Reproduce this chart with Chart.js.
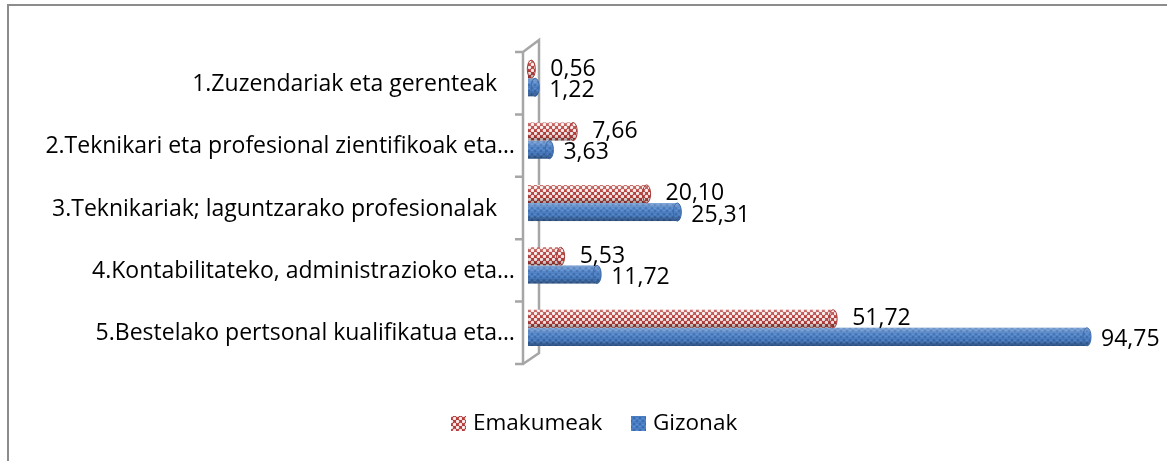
<!DOCTYPE html>
<html>
<head>
<meta charset="utf-8">
<script src="https://cdn.jsdelivr.net/npm/chart.js@4/dist/chart.umd.min.js"></script>
<style>
  html, body { margin: 0; padding: 0; background: #fff; }
  #wrap { width: 1167px; height: 461px; position: relative; }
</style>
</head>
<body>
<div id="wrap"><canvas id="c" width="1167" height="461"></canvas></div>
<script>
const categories = [
  "1.Zuzendariak eta gerenteak",
  "2.Teknikari eta profesional zientifikoak eta…",
  "3.Teknikariak; laguntzarako profesionalak",
  "4.Kontabilitateko, administrazioko eta…",
  "5.Bestelako pertsonal kualifikatua eta…"
];
const seriesNames = ["Emakumeak", "Gizonak"];
const emakumeak = [0.56, 7.66, 20.10, 5.53, 51.72];
const gizonak = [1.22, 3.63, 25.31, 11.72, 94.75];

const FONT = '"Open Sans", "DejaVu Sans", sans-serif';

function makePattern(kind) {
  const t = document.createElement('canvas');
  t.width = 6; t.height = 6;
  const g = t.getContext('2d');
  if (kind === 'red') {
    g.fillStyle = '#B43C39';
    g.fillRect(0, 0, 6, 6);
    g.fillStyle = '#F7ECEC';
    g.beginPath(); g.arc(1.5, 1.5, 1.7, 0, Math.PI * 2); g.fill();
    g.beginPath(); g.arc(4.5, 4.5, 1.7, 0, Math.PI * 2); g.fill();
  } else {
    g.fillStyle = '#4A7EC4';
    g.fillRect(0, 0, 6, 6);
    g.fillStyle = '#3C6BAC';
    g.fillRect(0, 0, 2, 2);
    g.fillRect(3, 3, 2, 2);
    g.fillStyle = '#5A8ED2';
    g.fillRect(3, 0, 2, 1);
    g.fillRect(0, 4, 2, 1);
  }
  return g.createPattern(t, 'repeat');
}
const redPat = makePattern('red');
const bluePat = makePattern('blue');
const seriesFills = [redPat, bluePat];
const capColors = ['#A63A37', '#3D6AA8'];

const fmt = v => v.toFixed(2).replace('.', ',');

const decor = {
  id: 'decor',
  beforeDraw(chart) {
    const c = chart.ctx;
    c.save();
    c.strokeStyle = '#8C8C8C';
    c.lineWidth = 2;
    c.strokeRect(8, 5, 1300, 600);
    c.restore();
  },
  beforeDatasetsDraw(chart) {
    const c = chart.ctx;
    const n = categories.length;
    const top = chart.chartArea.top + 5;
    const bot = chart.chartArea.bottom + 5;
    const step = (bot - top) / n;
    c.save();
    c.strokeStyle = '#A6A6A6';
    c.lineWidth = 2.5;
    c.beginPath();
    c.moveTo(523, top); c.lineTo(523, bot);
    for (let i = 0; i <= n; i++) {
      const yy = top + i * step;
      c.moveTo(515, yy); c.lineTo(524, yy);
    }
    c.moveTo(523, top); c.lineTo(539, top - 12);
    c.lineTo(539, bot - 11);
    c.lineTo(523, bot);
    c.stroke();
    c.restore();
  },
  afterDatasetsDraw(chart) {
    const c = chart.ctx;
    c.save();
    chart.data.datasets.forEach((ds, di) => {
      const meta = chart.getDatasetMeta(di);
      meta.data.forEach((bar) => {
        const h = bar.height;
        const x0 = bar.base, x1 = bar.x;
        const yT = bar.y - h / 2;
        const gr = c.createLinearGradient(0, yT, 0, yT + h);
        gr.addColorStop(0, 'rgba(255,255,255,0.30)');
        gr.addColorStop(0.35, 'rgba(255,255,255,0.05)');
        gr.addColorStop(0.7, 'rgba(0,0,0,0.05)');
        gr.addColorStop(1, 'rgba(0,0,0,0.35)');
        c.fillStyle = gr;
        c.fillRect(x0, yT, x1 - x0, h);
        c.beginPath();
        c.ellipse(x1, bar.y, 4, h / 2, 0, 0, Math.PI * 2);
        c.fillStyle = seriesFills[di];
        c.fill();
        c.fillStyle = gr;
        c.fill();
        c.strokeStyle = capColors[di];
        c.lineWidth = 1;
        c.stroke();
      });
    });
    // data labels
    c.font = '23px ' + FONT;
    c.fillStyle = '#000';
    c.textBaseline = 'middle';
    c.textAlign = 'left';
    chart.data.datasets.forEach((ds, di) => {
      const meta = chart.getDatasetMeta(di);
      meta.data.forEach((bar, i) => {
        const off = di === 0 ? 19 : 14;
        const dy = di === 0 ? 0 : 3;
        c.fillText(fmt(ds.data[i]), bar.x + off, bar.y + dy);
      });
    });
    // category labels
    const ys = chart.scales.y;
    c.font = '23px ' + FONT;
    c.textAlign = 'right';
    categories.forEach((lab, i) => {
      const yy = ys.getPixelForValue(i) + 6;
      const xr = lab.endsWith('…') ? 515 : 497;
      c.fillText(lab, xr, yy);
    });
    // legend
    const items = [{x: 451, tx: 473}, {x: 631, tx: 653}];
    c.font = '22.5px ' + FONT;
    c.textAlign = 'left';
    seriesNames.forEach((name, di) => {
      c.fillStyle = seriesFills[di];
      c.fillRect(items[di].x, 416, 15, 15);
      c.fillStyle = '#000';
      c.fillText(name, items[di].tx, 424);
    });
    c.restore();
  }
};

new Chart(document.getElementById('c'), {
  type: 'bar',
  data: {
    labels: categories,
    datasets: [
      { label: seriesNames[0], data: emakumeak, backgroundColor: redPat, borderWidth: 0 },
      { label: seriesNames[1], data: gizonak, backgroundColor: bluePat, borderWidth: 0 }
    ]
  },
  options: {
    indexAxis: 'y',
    responsive: false,
    animation: false,
    devicePixelRatio: 1,
    layout: { padding: { left: 528, right: 49, top: 47, bottom: 102 } },
    datasets: { bar: { categoryPercentage: 0.58, barPercentage: 1.0 } },
    scales: {
      x: { display: false, min: 0, max: 100 },
      y: { display: false }
    },
    plugins: {
      legend: { display: false },
      tooltip: { enabled: false }
    }
  },
  plugins: [decor]
});
</script>
</body>
</html>
